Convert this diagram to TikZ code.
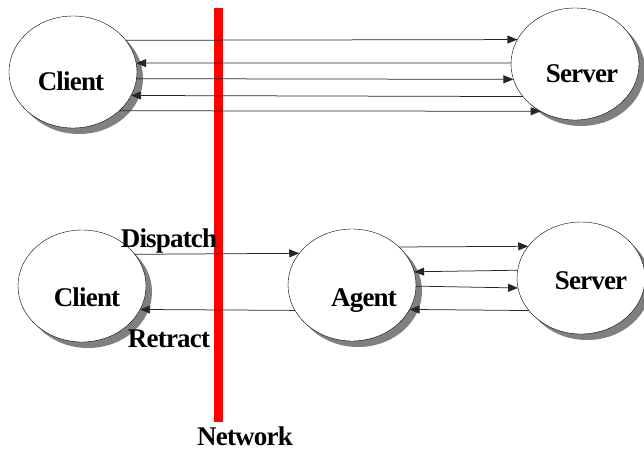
\documentclass[tikz,border=0pt]{standalone}
\usepackage{fontspec}
\setmainfont{Liberation Serif}
\newfontfamily\lblfont{Liberation Serif}[LetterSpace=-3]
\usetikzlibrary{shapes.geometric,shadows,arrows.meta}

\begin{document}
\begin{tikzpicture}[x=1pt,y=-1pt,
  proc/.style={ellipse,draw,thin,fill=white,minimum width=128pt,minimum height=112pt,
    inner sep=0pt,outer sep=0pt,
    drop shadow={shadow xshift=6pt,shadow yshift=-6pt,fill=black!50,opacity=1}},
  lbl/.style={font=\lblfont\bfseries\fontsize{27}{27}\selectfont,anchor=base,inner sep=0pt},
  msg/.style={-{Triangle[length=10pt,width=8pt]},black!85,line width=0.75pt},
  net/.style={red,line width=9pt}]
\useasboundingbox (0,0) rectangle (644,453);

% network boundary
\draw[net] (218,8) -- (218,422) coordinate (netend);
\node[lbl] (netlbl) at (245,445) {Network};

% client/server without agent
\node[proc] (c1) at (73,72) {};
\node[proc] (s1) at (575,64) {};
\node[lbl] (c1lbl) at ([shift={(-2,18)}]c1.center) {Client};
\node[lbl] (s1lbl) at ([shift={(7,18)}]s1.center) {Server};
\draw[msg] (c1.31.4) -- (s1.157.5);
\draw[msg] (s1.179) -- (c1.8.1);
\draw[msg] (c1.-6.3) -- (s1.-166.3);
\draw[msg] (s1.-148.6) -- (c1.-22.5);
\draw[msg] (c1.-40.3) -- (s1.-126.5);

% client/agent/server
\node[proc] (c2) at (82,286) {};
\node[proc] (ag) at (352,285) {};
\node[proc] (s2) at (581,278) {};
\node[lbl] (c2lbl) at ([shift={(5,20)}]c2.center) {Client};
\node[lbl] (aglbl) at ([shift={(12,21)}]ag.center) {Agent};
\node[lbl] (s2lbl) at ([shift={(10,11)}]s2.center) {Server};
\draw[msg] (c2.31.4) -- (ag.149.8);
\draw[msg] (ag.-156.4) -- (c2.-22.5);
\node[lbl] (displbl) at (169,247) {Dispatch};
\node[lbl] (retrlbl) at (169,347) {Retract};
\draw[msg] (ag.39) -- (s2.149.8);
\draw[msg] (s2.173.7) -- (ag.12.7);
\draw[msg] (ag.-1.8) -- (s2.-171.9);
\draw[msg] (s2.-148.6) -- (ag.-23.6);
\end{tikzpicture}
\end{document}
